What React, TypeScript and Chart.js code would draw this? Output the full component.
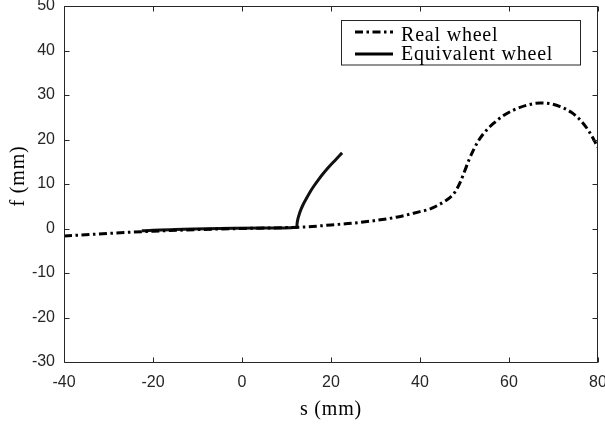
import React, { useEffect, useRef } from "react";
import { Chart, registerables } from "chart.js";

Chart.register(...registerables);

// ---- data ----
const realS = [-40, -30, -20, -10, 0, 10, 15, 20, 25, 30, 35, 40, 42, 44, 46, 47, 48, 49, 50, 51, 52, 53, 54.5, 56.5, 58.5, 61, 64, 67, 69, 71.5, 74, 76, 78, 80];
const realF = [-1.7, -1.1, -0.6, -0.25, 0, 0.2, 0.4, 0.8, 1.2, 1.8, 2.6, 3.8, 4.3, 5.2, 6.4, 7.2, 8.4, 10.3, 12.8, 15.4, 17.6, 19.5, 21.6, 23.6, 25.2, 26.6, 27.7, 28.2, 28.1, 27.4, 26.1, 24.4, 21.8, 18.2];

const equivS = [-22.5, -15, -5, 5, 12.3, 12.4, 12.6, 12.9, 13.3, 13.8, 14.5, 15.3, 16.2, 17.2, 18.3, 19.5, 21, 22.5];
const equivF = [-0.5, -0.2, 0, 0.1, 0.3, 1.3, 2.3, 3.3, 4.4, 5.5, 6.8, 8.2, 9.6, 11.0, 12.4, 13.8, 15.4, 17.0];

const seriesNames = ["Real wheel", "Equivalent wheel"];
const xTicks = [-40, -20, 0, 20, 40, 60, 80];
const yTicks = [-30, -20, -10, 0, 10, 20, 30, 40, 50];
const xTitle = "s (mm)";
const yTitle = "f (mm)";

const AXIS = "#262626";
const DASHDOT = [8, 3.5, 2.5, 3.5];
const SERIF = '"Liberation Serif", "Times New Roman", serif';
const SANS = '"Liberation Sans", Arial, sans-serif';

const framePlugin = {
  id: "frame",
  afterDatasetsDraw(chart: any) {
    const { ctx, chartArea: a, scales } = chart;
    const xs = scales.x;
    const ys = scales.y;
    ctx.save();
    ctx.strokeStyle = AXIS;
    ctx.lineWidth = 1;
    ctx.setLineDash([]);
    const L = Math.round(a.left) + 0.5;
    const R = Math.round(a.right) - 0.5;
    const T = Math.round(a.top) + 0.5;
    const B = Math.round(a.bottom) + 0.5;
    ctx.beginPath();
    ctx.moveTo(L, T);
    ctx.lineTo(R, T);
    ctx.lineTo(R, B);
    ctx.lineTo(L, B);
    ctx.closePath();
    ctx.stroke();
    // inward ticks
    const tl = 5;
    ctx.beginPath();
    for (const v of xTicks) {
      const px = Math.round(xs.getPixelForValue(v)) + 0.5;
      ctx.moveTo(px, B);
      ctx.lineTo(px, B - tl);
      ctx.moveTo(px, T);
      ctx.lineTo(px, T + tl);
    }
    for (const v of yTicks) {
      const py = Math.round(ys.getPixelForValue(v)) + 0.5;
      ctx.moveTo(L, py);
      ctx.lineTo(L + tl, py);
      ctx.moveTo(R, py);
      ctx.lineTo(R - tl, py);
    }
    ctx.stroke();

    // axis titles
    ctx.fillStyle = "#000";
    ctx.font = `20px ${SERIF}`;
    try { (ctx as any).letterSpacing = "0.8px"; } catch (e) {}
    ctx.textAlign = "center";
    ctx.textBaseline = "middle";
    ctx.fillText(xTitle, (a.left + a.right) / 2, 410);
    ctx.save();
    ctx.translate(19, 176);
    ctx.rotate(-Math.PI / 2);
    ctx.fillText(yTitle, 0, 0);
    ctx.restore();

    // legend
    const bx = 341.5, by = 20.5, bw = 239, bh = 44.5;
    ctx.fillStyle = "#fff";
    ctx.fillRect(bx, by, bw, bh);
    ctx.strokeStyle = AXIS;
    ctx.lineWidth = 1;
    ctx.strokeRect(bx, by, bw, bh);
    const rows = [32, 54];
    const bases = [41, 60];
    chart.data.datasets.forEach((ds: any, i: number) => {
      ctx.beginPath();
      ctx.strokeStyle = "#000";
      ctx.lineWidth = 3;
      ctx.setLineDash(ds.borderDash || []);
      ctx.moveTo(355, rows[i]);
      ctx.lineTo(393, rows[i]);
      ctx.stroke();
      ctx.setLineDash([]);
      ctx.fillStyle = "#000";
      ctx.textAlign = "left";
      ctx.textBaseline = "alphabetic";
      ctx.fillText(ds.label, 401, bases[i]);
    });
    ctx.restore();
  },
};

export default function App() {
  const ref = useRef<HTMLCanvasElement | null>(null);
  useEffect(() => {
    if (!ref.current) return;
    const chart = new Chart(ref.current, {
      type: "line",
      data: {
        datasets: [
          {
            label: seriesNames[0],
            data: realS.map((s, i) => ({ x: s, y: realF[i] })),
            borderColor: "#000",
            borderWidth: 3,
            borderDash: DASHDOT,
            pointRadius: 0,
            cubicInterpolationMode: "monotone",
            fill: false,
          },
          {
            label: seriesNames[1],
            data: equivS.map((s, i) => ({ x: s, y: equivF[i] })),
            borderColor: "#111",
            borderWidth: 3,
            pointRadius: 0,
            cubicInterpolationMode: "monotone",
            fill: false,
          },
        ],
      },
      options: {
        responsive: false,
        animation: false,
        layout: { padding: { left: 0, top: 6, right: 7, bottom: 0 } },
        plugins: { legend: { display: false }, tooltip: { enabled: false } },
        scales: {
          x: {
            type: "linear",
            min: -40,
            max: 80,
            grid: { display: false, drawTicks: false },
            border: { display: false },
            ticks: {
              stepSize: 20,
              maxRotation: 0,
              autoSkip: false,
              padding: 11,
              color: AXIS,
              font: { family: SANS, size: 16 },
              callback: (v: any) => String(v),
            },
            afterFit: (s: any) => {
              s.height = 63;
              s.paddingLeft = 0;
              s.paddingRight = 0;
            },
          },
          y: {
            type: "linear",
            min: -30,
            max: 50,
            grid: { display: false, drawTicks: false },
            border: { display: false },
            ticks: {
              stepSize: 10,
              autoSkip: false,
              padding: 9,
              color: AXIS,
              font: { family: SANS, size: 16 },
              callback: (v: any) => String(v),
            },
            afterFit: (s: any) => {
              s.width = 64;
              s.paddingTop = 0;
              s.paddingBottom = 0;
            },
          },
        },
      },
      plugins: [framePlugin],
    });
    return () => chart.destroy();
  }, []);
  return (
    <div style={{ position: "absolute", left: 0, top: 0, width: 605, height: 425, background: "#fff" }}>
      <canvas ref={ref} width={605} height={425} style={{ display: "block" }} />
    </div>
  );
}
